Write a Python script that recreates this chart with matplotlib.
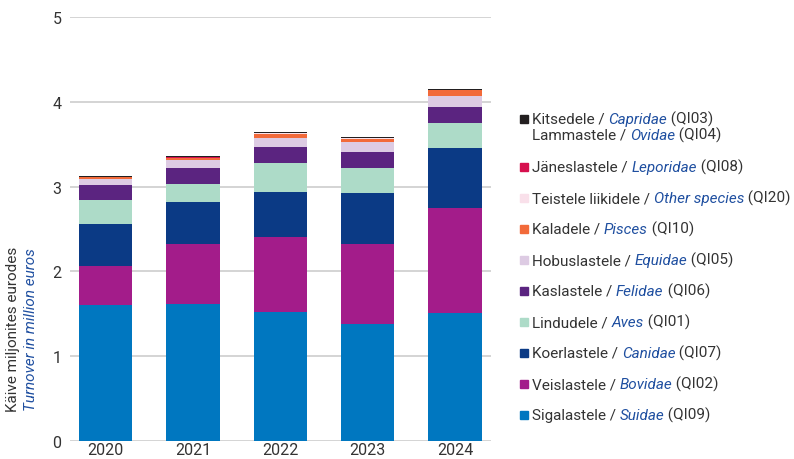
import matplotlib
matplotlib.use("Agg")
import matplotlib.pyplot as plt
import numpy as np

plt.rcParams['font.family'] = ['Roboto', 'DejaVu Sans']

years = ["2020", "2021", "2022", "2023", "2024"]

# turnover per animal group, million euros (bottom to top of each stack)
sigalastele = [1.60, 1.61, 1.52, 1.38, 1.51]
veislastele = [0.46, 0.71, 0.89, 0.945, 1.24]
koerlastele = [0.50, 0.50, 0.53, 0.605, 0.71]
lindudele = [0.28, 0.21, 0.34, 0.29, 0.285]
kaslastele = [0.18, 0.19, 0.19, 0.19, 0.195]
hobuslastele = [0.07, 0.095, 0.105, 0.12, 0.13]
kaladele = [0.02, 0.02, 0.05, 0.035, 0.065]
teistele = [0.005, 0.005, 0.005, 0.005, 0.006]
janeslastele = [0.003, 0.005, 0.003, 0.003, 0.003]
kitsedele = [0.012, 0.015, 0.015, 0.015, 0.012]

series = [
    (sigalastele, "#0077c0", "Sigalastele / ", "Suidae", " (QI09)"),
    (veislastele, "#a31c8a", "Veislastele / ", "Bovidae", " (QI02)"),
    (koerlastele, "#0b3a85", "Koerlastele / ", "Canidae", " (QI07)"),
    (lindudele, "#addbc8", "Lindudele / ", "Aves", " (QI01)"),
    (kaslastele, "#5b2480", "Kaslastele / ", "Felidae", " (QI06)"),
    (hobuslastele, "#ddcbe3", "Hobuslastele / ", "Equidae", " (QI05)"),
    (kaladele, "#f26a3a", "Kaladele / ", "Pisces", " (QI10)"),
    (teistele, "#f9e0ea", "Teistele liikidele / ", "Other species", " (QI20)"),
    (janeslastele, "#d6104e", "Jäneslastele / ", "Leporidae", " (QI08)"),
    (kitsedele, "#231f20", "Kitsedele / ", "Capridae", " (QI03)"),
]

TEXT = "#333333"
BLUE = "#1f4fa0"

fig = plt.figure(figsize=(7.94, 4.6), dpi=100)
ax = fig.add_axes([0.088, 0.039, 0.530, 0.922])

x = np.arange(len(years))
bottom = np.zeros(len(years))
for vals, color, *_ in series:
    ax.bar(x, vals, bottom=bottom, width=0.61, color=color, linewidth=0, zorder=3)
    bottom += np.array(vals)

ax.set_xlim(-0.41, 4.41)
ax.set_ylim(0, 5)
ax.set_yticks(range(6))
ax.set_xticks(x)
ax.set_xticklabels(years)
ax.grid(axis='y', color="#d4d4d4", linewidth=1.4, zorder=0)
for s in ax.spines.values():
    s.set_visible(False)
ax.tick_params(axis='both', length=0, labelsize=11.5, labelcolor=TEXT)
ax.tick_params(axis='y', pad=6)
ax.tick_params(axis='x', pad=1)

# two-line axis title: Estonian and English
fig.text(0.016, 0.283, "Käive miljonites eurodes", rotation=90, fontsize=11,
         color=TEXT, ha='center', va='center')
fig.text(0.039, 0.283, "Turnover in million euros", rotation=90, fontsize=11,
         color=BLUE, style='italic', ha='center', va='center')


def legend_line(xpos, ypos, plain, italic, tail):
    t1 = fig.text(xpos, ypos, plain, fontsize=11, color=TEXT, va='center')
    t2 = ax.annotate(italic, xy=(1, 0), xycoords=t1, fontsize=11, color=BLUE,
                     style='italic', va='bottom', annotation_clip=False)
    ax.annotate(tail, xy=(1, 0), xycoords=t2, fontsize=11, color=TEXT,
                va='bottom', annotation_clip=False)


legend_rows = list(reversed(series))
ys = [120, 168, 199, 230, 261, 292, 323, 354, 385, 416]
sq_x = 520 / 794
txt_x = 532 / 794
for (vals, color, plain, italic, tail), yp in zip(legend_rows, ys):
    yf = 1 - yp / 460
    fig.patches.append(plt.Rectangle((sq_x, yf - 4 / 460), 8 / 794, 8 / 460,
                                     transform=fig.transFigure, color=color))
    legend_line(txt_x, yf, plain, italic, tail)
legend_line(txt_x, 1 - 136 / 460, "Lammastele / ", "Ovidae", " (QI04)")

fig.savefig("out.png", dpi=100)
